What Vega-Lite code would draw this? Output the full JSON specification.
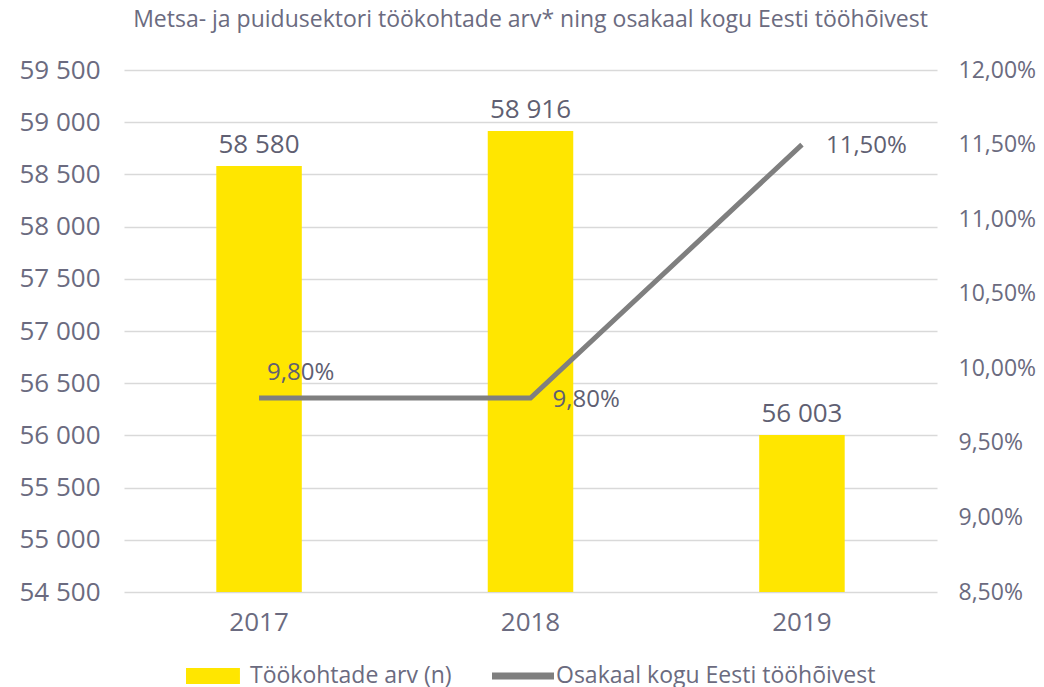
{
  "$schema": "https://vega.github.io/schema/vega-lite/v6.json",
  "width": 813,
  "height": 522,
  "autosize": {"type": "none"},
  "padding": {"left": 124, "top": 70, "right": 107, "bottom": 95},
  "background": "white",
  "config": {
    "locale": {"number": {"decimal": ",", "thousands": " ", "grouping": [3], "currency": ["", " €"], "percent": "%"}},
    "font": "Open Sans",
    "view": {"stroke": null},
    "axis": {"labelColor": "#6b6b80", "labelFontSize": 26, "labelFont": "Open Sans", "titleColor": "#6b6b80"},
    "legend": {"layout": {"bottom": {"anchor": "middle"}}}
  },
  "title": {
    "text": "Metsa- ja puidusektori töökohtade arv* ning osakaal kogu Eesti tööhõivest",
    "fontSize": 23,
    "fontWeight": "normal",
    "font": "Open Sans",
    "color": "#6b6b80",
    "anchor": "middle",
    "offset": 25
  },
  "data": {
    "values": [
      {"year": "2017", "jobs": 58580, "share": 0.098},
      {"year": "2018", "jobs": 58916, "share": 0.098},
      {"year": "2019", "jobs": 56003, "share": 0.115}
    ]
  },
  "encoding": {
    "x": {
      "field": "year", "type": "nominal", "title": null,
      "scale": {"paddingInner": 0.685, "paddingOuter": 0.34},
      "axis": {"labelAngle": 0, "domain": false, "ticks": false, "labelPadding": 17, "grid": false}
    }
  },
  "layer": [
    {
      "layer": [
        {
          "mark": {"type": "bar", "color": "#FFE600", "clip": true},
          "encoding": {
            "y": {
              "field": "jobs", "type": "quantitative", "title": null,
              "scale": {"domain": [54500, 59500], "zero": false, "nice": false},
              "axis": {"values": [54500, 55000, 55500, 56000, 56500, 57000, 57500, 58000, 58500, 59000, 59500], "format": ",.0f", "domain": false, "ticks": false, "labelPadding": 24, "gridColor": "#d9d9d9", "gridWidth": 1.5}
            }
          }
        },
        {
          "mark": {"type": "text", "fontSize": 26, "color": "#5f5f72", "baseline": "bottom", "dy": -8},
          "encoding": {
            "y": {"field": "jobs", "type": "quantitative"},
            "text": {"field": "jobs", "type": "quantitative", "format": ",.0f"}
          }
        }
      ]
    },
    {
      "layer": [
        {
          "mark": {"type": "line", "strokeWidth": 5, "color": "#7f7f7f"},
          "encoding": {
            "y": {
              "field": "share", "type": "quantitative", "title": null,
              "scale": {"domain": [0.085, 0.12], "zero": false, "nice": false},
              "axis": {"orient": "right", "values": [0.085, 0.09, 0.095, 0.1, 0.105, 0.11, 0.115, 0.12], "format": ".2%", "grid": false, "domain": false, "ticks": false, "labelPadding": 21, "labelFontSize": 23}
            }
          }
        },
        {
          "transform": [{"filter": "datum.year == '2017'"}],
          "mark": {"type": "text", "fontSize": 24, "color": "#5f5f72", "align": "left", "dx": 8, "dy": -25},
          "encoding": {"y": {"field": "share", "type": "quantitative"}, "text": {"field": "share", "type": "quantitative", "format": ".2%"}}
        },
        {
          "transform": [{"filter": "datum.year == '2018'"}],
          "mark": {"type": "text", "fontSize": 24, "color": "#5f5f72", "align": "left", "dx": 22, "dy": 2},
          "encoding": {"y": {"field": "share", "type": "quantitative"}, "text": {"field": "share", "type": "quantitative", "format": ".2%"}}
        },
        {
          "transform": [{"filter": "datum.year == '2019'"}],
          "mark": {"type": "text", "fontSize": 24, "color": "#5f5f72", "align": "left", "dx": 24, "dy": 1},
          "encoding": {"y": {"field": "share", "type": "quantitative"}, "text": {"field": "share", "type": "quantitative", "format": ".2%"}}
        }
      ]
    },
    {
      "data": {"values": [{"series": "Töökohtade arv (n)"}, {"series": "Osakaal kogu Eesti tööhõivest"}]},
      "mark": {"type": "point", "opacity": 0, "filled": true},
      "encoding": {
        "x": {"value": 0},
        "y": {"value": 0},
        "color": {
          "field": "series", "type": "nominal",
          "scale": {"domain": ["Töökohtade arv (n)", "Osakaal kogu Eesti tööhõivest"], "range": ["#FFE600", "#7f7f7f"]},
          "legend": {
            "title": null, "orient": "bottom", "direction": "horizontal", "offset": 10,
            "labelFontSize": 23, "labelColor": "#6b6b80", "labelLimit": 500, "symbolSize": 3844, "symbolOpacity": 1, "symbolStrokeWidth": 0,
            "columnPadding": 40, "labelOffset": 2
          }
        },
        "shape": {
          "field": "series", "type": "nominal",
          "scale": {"domain": ["Töökohtade arv (n)", "Osakaal kogu Eesti tööhõivest"], "range": ["M-1,-0.26H0.74V0.26H-1Z", "M-1,-0.11H1V0.11H-1Z"]},
          "legend": {
            "title": null, "orient": "bottom", "direction": "horizontal", "offset": 10,
            "labelFontSize": 23, "labelColor": "#6b6b80", "labelLimit": 500, "symbolSize": 3844, "symbolOpacity": 1, "symbolStrokeWidth": 0,
            "columnPadding": 40, "labelOffset": 2
          }
        }
      }
    }
  ],
  "resolve": {"scale": {"y": "independent"}}
}
